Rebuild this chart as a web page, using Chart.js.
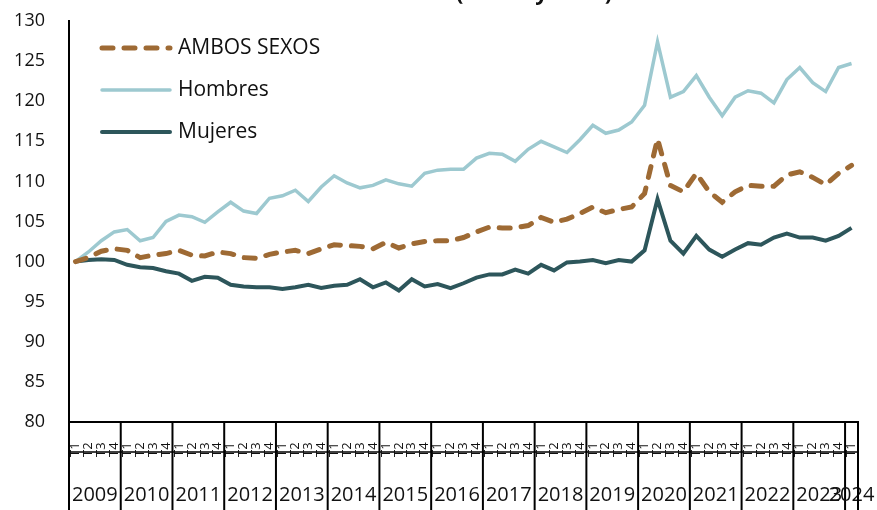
<!DOCTYPE html>
<html>
<head>
<meta charset="utf-8">
<script src="https://cdn.jsdelivr.net/npm/chart.js@4.4.1/dist/chart.umd.min.js"></script>
<style>
    body { margin: 0; background: #fff; }
    #grafico { display: block; }
</style>
</head>
<body>
<canvas id="grafico" width="877" height="510"></canvas>
<script>
// AÑOS Y TRIMESTRES DEL EJE X
var anios = ['2009', '2010', '2011', '2012', '2013', '2014', '2015', '2016', '2017', '2018', '2019', '2020', '2021', '2022', '2023', '2024'];
var trimestres = ['T1', 'T2', 'T3', 'T4'];
var trimestresUltimoAnio = 1;

// SERIES (2009 T1 = 100)
var ambosSexos = [100.0, 100.5, 101.3, 101.6, 101.4, 100.5, 100.8, 101.0, 101.4, 100.8,
    100.7, 101.2, 101.0, 100.5, 100.4, 100.9, 101.2, 101.4, 101.0, 101.6,
    102.1, 102.0, 101.9, 101.6, 102.4, 101.7, 102.2, 102.5, 102.6, 102.6,
    103.0, 103.7, 104.3, 104.2, 104.2, 104.5, 105.5, 104.9, 105.3, 106.0,
    106.8, 106.1, 106.5, 106.8, 108.5, 115.3, 109.5, 108.7, 111.0, 108.7,
    107.4, 108.7, 109.5, 109.4, 109.4, 110.8, 111.2, 110.5, 109.6, 111.0, 112.0];
var hombres = [100.0, 101.2, 102.6, 103.7, 104.0, 102.6, 103.0, 105.0, 105.8, 105.6,
    104.9, 106.2, 107.4, 106.3, 106.0, 107.9, 108.2, 108.9, 107.5, 109.3,
    110.7, 109.8, 109.2, 109.5, 110.2, 109.7, 109.4, 111.0, 111.4, 111.5,
    111.5, 112.9, 113.5, 113.4, 112.5, 114.0, 115.0, 114.3, 113.6, 115.2,
    117.0, 116.0, 116.4, 117.4, 119.5, 127.4, 120.5, 121.2, 123.2, 120.5,
    118.2, 120.5, 121.3, 121.0, 119.8, 122.7, 124.2, 122.3, 121.2, 124.2, 124.7];
var mujeres = [100.0, 100.2, 100.3, 100.2, 99.6, 99.3, 99.2, 98.8, 98.5, 97.6,
    98.1, 98.0, 97.1, 96.9, 96.8, 96.8, 96.6, 96.8, 97.1, 96.7,
    97.0, 97.1, 97.8, 96.8, 97.4, 96.4, 97.8, 96.9, 97.2, 96.7,
    97.3, 98.0, 98.4, 98.4, 99.0, 98.5, 99.6, 98.9, 99.9, 100.0,
    100.2, 99.8, 100.2, 100.0, 101.4, 107.8, 102.6, 101.0, 103.2, 101.5,
    100.6, 101.5, 102.3, 102.1, 103.0, 103.5, 103.0, 103.0, 102.6, 103.2, 104.2];

var tituloVisible = '(índice y base)';
var fuente = '"Open Sans", "Noto Sans", sans-serif';

// ETIQUETAS: [TRIMESTRE, AÑO]
var etiquetas = [];
for (var a = 0; a < anios.length; a++) {
    var n = (a == anios.length - 1) ? trimestresUltimoAnio : trimestres.length;
    for (var t = 0; t < n; t++) {
        etiquetas.push([trimestres[t], anios[a]]);
    }
}

// LEYENDA DENTRO DEL GRAFICO
var leyenda = {
    id: 'leyenda',
    afterDraw: function (chart) {
        var ctx = chart.ctx;
        var filas = [48, 90, 132];
        ctx.save();
        chart.data.datasets.forEach(function (ds, i) {
            ctx.beginPath();
            ctx.strokeStyle = ds.borderColor;
            ctx.lineWidth = ds.borderWidth;
            ctx.lineCap = 'round';
            ctx.setLineDash(ds.borderDash || []);
            ctx.moveTo(102, filas[i]);
            ctx.lineTo(170, filas[i]);
            ctx.stroke();
            ctx.setLineDash([]);
            ctx.fillStyle = '#111';
            ctx.font = '21px ' + fuente;
            ctx.textBaseline = 'middle';
            ctx.textAlign = 'left';
            ctx.fillText(ds.label, 178, filas[i]);
        });
        // titulo cortado en el borde superior
        ctx.font = 'bold 22px ' + fuente;
        ctx.textBaseline = 'alphabetic';
        ctx.fillText(tituloVisible, 456, 0);
        ctx.restore();
    }
};

// EJE X DE DOS NIVELES (TRIMESTRE / AÑO)
var ejeInferior = {
    id: 'ejeInferior',
    afterDraw: function (chart) {
        var ctx = chart.ctx;
        var area = chart.chartArea;
        var x = chart.scales.x;
        var paso = x.getPixelForValue(1) - x.getPixelForValue(0);
        var yLinea = 452;
        var abajo = chart.height;
        ctx.save();
        ctx.strokeStyle = '#000';
        ctx.fillStyle = '#111';

        ctx.lineWidth = 1.5;
        ctx.beginPath();
        ctx.moveTo(area.left, yLinea);
        ctx.lineTo(area.right, yLinea);
        ctx.stroke();

        ctx.font = '13px ' + fuente;
        ctx.textBaseline = 'middle';
        ctx.textAlign = 'left';
        for (var i = 0; i < etiquetas.length; i++) {
            var cx = x.getPixelForValue(i);
            ctx.save();
            ctx.translate(cx, 457);
            ctx.rotate(-Math.PI / 2);
            ctx.fillText(etiquetas[i][0], 0, 0);
            ctx.restore();
        }

        ctx.lineWidth = 2;
        ctx.font = '20px ' + fuente;
        ctx.textAlign = 'center';
        ctx.textBaseline = 'middle';
        var inicio = 0;
        for (var a = 0; a < anios.length; a++) {
            var n = (a == anios.length - 1) ? trimestresUltimoAnio : trimestres.length;
            var x0 = x.getPixelForValue(inicio) - paso / 2;
            var x1 = x.getPixelForValue(inicio + n - 1) + paso / 2;
            ctx.beginPath();
            ctx.moveTo(x0, area.bottom);
            ctx.lineTo(x0, abajo);
            ctx.stroke();
            ctx.fillText(anios[a], (x0 + x1) / 2, 495);
            inicio += n;
        }
        ctx.beginPath();
        ctx.moveTo(area.right, area.bottom);
        ctx.lineTo(area.right, abajo);
        ctx.stroke();
        ctx.restore();
    }
};

var ctx = document.getElementById('grafico').getContext('2d');
var grafico = new Chart(ctx, {
    type: 'line',
    data: {
        labels: etiquetas,
        datasets: [
            {
                label: 'AMBOS SEXOS',
                data: ambosSexos,
                borderColor: '#9E6A34',
                backgroundColor: '#9E6A34',
                borderWidth: 5,
                borderDash: [11, 11],
                borderCapStyle: 'round',
                pointRadius: 0,
                tension: 0
            },
            {
                label: 'Hombres',
                data: hombres,
                borderColor: '#9DC9D0',
                backgroundColor: '#9DC9D0',
                borderWidth: 3.5,
                pointRadius: 0,
                tension: 0
            },
            {
                label: 'Mujeres',
                data: mujeres,
                borderColor: '#2D565B',
                backgroundColor: '#2D565B',
                borderWidth: 4,
                pointRadius: 0,
                tension: 0
            }
        ]
    },
    options: {
        responsive: false,
        animation: false,
        layout: {
            padding: { top: 21, right: 19, bottom: 0, left: 0 }
        },
        plugins: {
            legend: { display: false },
            tooltip: { enabled: false }
        },
        scales: {
            x: {
                offset: true,
                grid: { display: false, drawTicks: false },
                border: { display: true, color: '#000', width: 2 },
                ticks: { display: false },
                afterFit: function (scale) { scale.height = 88; }
            },
            y: {
                min: 80,
                max: 130,
                grid: { display: false, drawTicks: false },
                border: { display: true, color: '#000', width: 2 },
                ticks: {
                    stepSize: 5,
                    padding: 24,
                    color: '#111',
                    font: { family: fuente, size: 18 }
                },
                afterFit: function (scale) {
                    scale.width = 69;
                    // el padding de las etiquetas no debe empujar el area del grafico
                    scale.paddingTop = 0;
                    scale.paddingBottom = 0;
                }
            }
        }
    },
    plugins: [leyenda, ejeInferior]
});
</script>
</body>
</html>
